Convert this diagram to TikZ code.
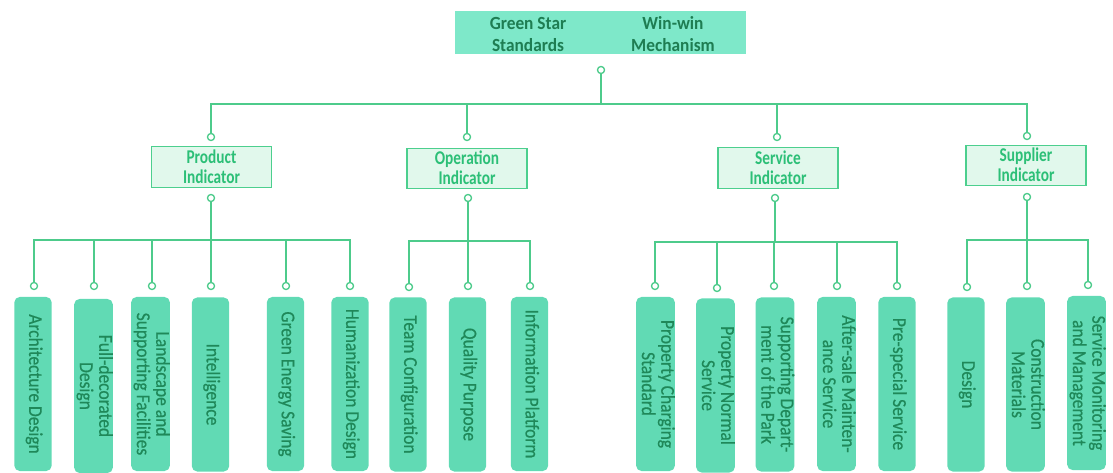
\documentclass[tikz,border=0pt]{standalone}
\usepackage{graphicx}
\usepackage{fontspec}
\setmainfont{Carlito}
\newfontfamily\leaffont{Carlito}[FakeBold=0.6]
\definecolor{linegreen}{HTML}{4DCB8B}
\definecolor{topfill}{HTML}{7EE8C9}
\definecolor{toptext}{HTML}{1E7D52}
\definecolor{midfill}{HTML}{E1F8EC}
\definecolor{middraw}{HTML}{4CCF8E}
\definecolor{midtext}{HTML}{2CBF77}
\definecolor{leaffill}{HTML}{61DAB4}
\definecolor{leaftext}{HTML}{1F8859}
% text lines stacked and stretched in the glyph-height direction
\newcommand\tall[2]{\scalebox{1}[#1]{\begin{tabular}{@{}c@{}}#2\end{tabular}}}
% same, nudged down inside its own box
\newcommand\tallshift[3]{\raisebox{#1}[\height][\depth]{\tall{#2}{#3}}}
\tikzset{
  conn/.style={draw=linegreen, line width=1.1pt},
  dot/.style={circle, draw=linegreen, fill=white, line width=0.9pt, inner sep=0pt, minimum size=5.2pt},
  rootbox/.style={rectangle, fill=topfill, minimum width=218pt, minimum height=32pt, inner sep=0pt},
  roottext/.style={text=toptext, font=\fontsize{13}{15.4}\selectfont\bfseries, inner sep=0pt},
  midbox/.style={rectangle, fill=midfill, draw=middraw, line width=0.9pt, minimum width=90pt, minimum height=29.5pt, inner sep=0pt, text=midtext, font=\fontsize{11.5}{12}\selectfont\bfseries},
  leafbox/.style={rectangle, rounded corners=4pt, fill=leaffill, rotate=-90, minimum width=130.5pt, minimum height=28pt, inner sep=0pt, text=leaftext, font=\leaffont\fontsize{13.1}{12.9}\selectfont}
}
\begin{document}
\begin{tikzpicture}[x=0.75pt, y=-0.75pt]
\useasboundingbox (0,0) rectangle (1113,473);

% root
\node[rootbox] (root) at (600.5,32.5) {};
\node[roottext] (rootA) at (528,34) {\tallshift{-1.5pt}{1.07}{Green Star\\Standards}};
\node[roottext] (rootB) at (673,34) {\tallshift{-1.5pt}{1.07}{Win-win\\Mechanism}};
\node[dot] (c0) at (601,70) {};
\coordinate (b0) at (601,104);

% indicators
\node[midbox] (prod) at (211.5,167) {\tallshift{-1.6pt}{1.27}{Product\\Indicator}};
\node[midbox] (oper) at (467,168.5) {\tallshift{-1.6pt}{1.27}{Operation\\Indicator}};
\node[midbox] (serv) at (778,168) {\tallshift{-1.6pt}{1.27}{Service\\Indicator}};
\node[midbox] (supp) at (1026,165.5) {\tallshift{-1.6pt}{1.27}{Supplier\\Indicator}};

\node[dot] (prodT) at (211,137) {};
\node[dot] (operT) at (467,137) {};
\node[dot] (servT) at (777,137) {};
\node[dot] (suppT) at (1027,136) {};

\node[dot] (prodB) at (211,198) {};
\node[dot] (operB) at (468,198) {};
\node[dot] (servB) at (775,198) {};
\node[dot] (suppB) at (1027,197) {};

\coordinate (pbus) at (211,240);
\coordinate (obus) at (468,241);
\coordinate (sbus) at (775,242);
\coordinate (ubus) at (1027,240);

% leaves
\node[leafbox] (l1) at (33,384) {\tall{1.12}{Architecture Design}};
\node[leafbox] (l2) at (93.5,386) {\tall{1.12}{Full-decorated\\Design}};
\node[leafbox] (l3) at (150.5,384) {\tall{1.12}{Landscape and\\Supporting Facilities}};
\node[leafbox] (l4) at (210.5,384.5) {\tall{1.12}{Intelligence}};
\node[leafbox] (l5) at (285.5,384) {\tall{1.12}{Green Energy Saving}};
\node[leafbox] (l6) at (350,384) {\tall{1.12}{Humanization Design}};
\node[leafbox] (l7) at (408,384.5) {\tall{1.12}{Team Configuration}};
\node[leafbox] (l8) at (467.5,384.5) {\tall{1.12}{Quality Purpose}};
\node[leafbox] (l9) at (529.5,384) {\tall{1.12}{Information Platform}};
\node[leafbox] (l10) at (655.5,384) {\tall{1.12}{Property Charging\\Standard}};
\node[leafbox] (l11) at (715.5,385.5) {\tall{1.12}{Property Normal\\Service}};
\node[leafbox] (l12) at (775,384.5) {\tall{1.12}{Supporting Depart-\\ment of the Park}};
\node[leafbox] (l13) at (836.5,384) {\tall{1.12}{After-sale Mainten-\\ance Service}};
\node[leafbox] (l14) at (897,384) {\tall{1.12}{Pre-special Service}};
\node[leafbox] (l15) at (966,384.5) {\tall{1.12}{Design}};
\node[leafbox] (l16) at (1025.5,384.5) {\tall{1.12}{Construction\\Materials}};
\node[leafbox] (l17) at (1086.5,383) {\tall{1.12}{Service Monitoring\\and Management}};

\foreach \i/\x/\y in {1/34/286,2/94/286,3/152/286,4/211/286,5/286/286,6/350/286,
  7/409/287,8/468/286,9/530/286,
  10/655/286,11/717/288,12/774/286,13/837/286,14/897/286,
  15/967/287,16/1027/286,17/1088/285}
  \node[dot] (d\i) at (\x,\y) {};

% connectors: root to indicators
\draw[conn] (c0.south) -- (b0);
\foreach \t in {prodT,operT,servT,suppT}
  \draw[conn] (b0) -| (\t.north);

% connectors: indicators to leaves
\draw[conn] (prodB.south) -- (pbus);
\foreach \i in {1,...,6} \draw[conn] (pbus) -| (d\i.north);
\draw[conn] (operB.south) -- (obus);
\foreach \i in {7,8,9} \draw[conn] (obus) -| (d\i.north);
\draw[conn] (servB.south) -- (sbus);
\foreach \i in {10,...,14} \draw[conn] (sbus) -| (d\i.north);
\draw[conn] (suppB.south) -- (ubus);
\foreach \i in {15,16,17} \draw[conn] (ubus) -| (d\i.north);

% redraw the small rings above the lines
\foreach \n in {c0,prodT,operT,servT,suppT,prodB,operB,servB,suppB}
  \node[dot] at (\n) {};
\foreach \i in {1,...,17} \node[dot] at (d\i) {};
\end{tikzpicture}
\end{document}
